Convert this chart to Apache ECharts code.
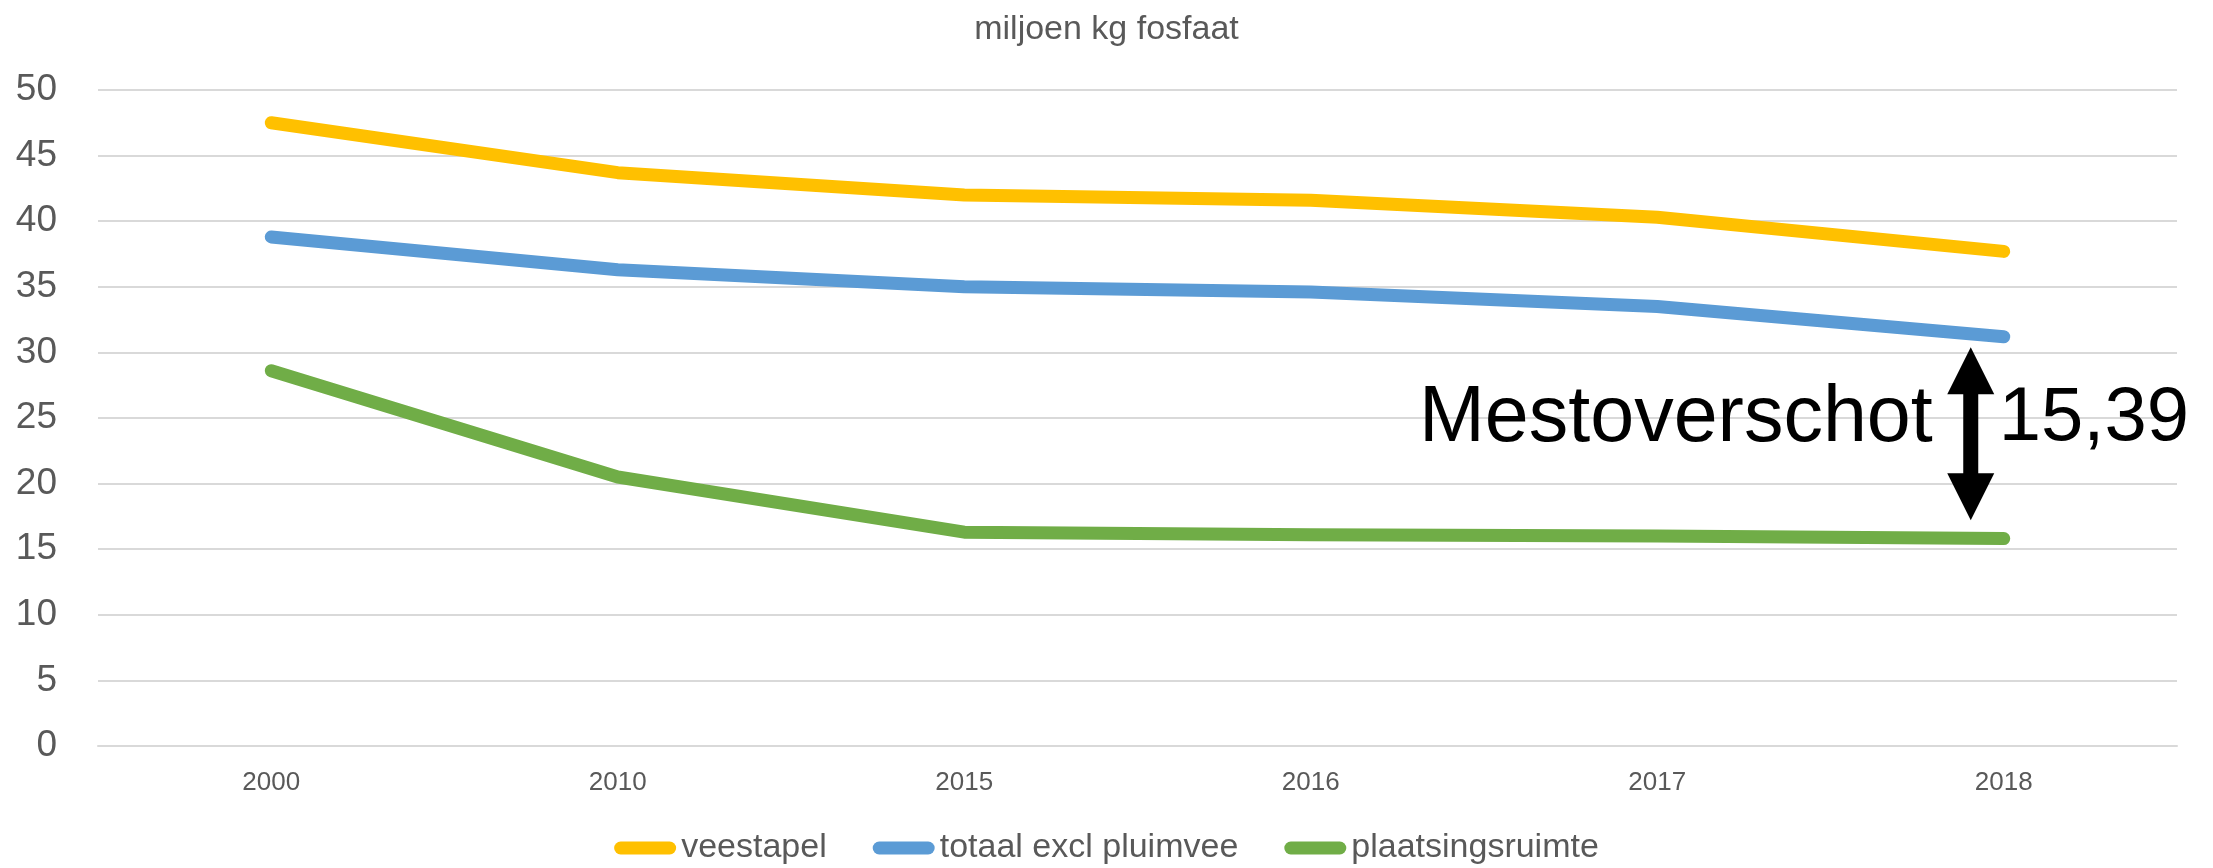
<html>
    <head>
        <meta charset="utf-8">
        <script src="https://cdn.jsdelivr.net/npm/echarts@6/dist/echarts.min.js"></script>
        <style>
            html, body { margin: 0; padding: 0; background: #fff; }
            #main { width: 2213px; height: 868px; }
        </style>
    </head>
    <body>
        <div id="main"></div>
        <script>
            var years = ['2000', '2010', '2015', '2016', '2017', '2018'];
            var veestapel = [47.5, 43.7, 42.0, 41.6, 40.3, 37.7];
            var totaalExclPluimvee = [38.8, 36.3, 35.0, 34.6, 33.5, 31.2];
            var plaatsingsruimte = [28.6, 20.5, 16.3, 16.1, 16.0, 15.81];

            // double arrow between the blue and green line at 2018
            var arrowTop = 30.4;
            var arrowBottom = 17.2;
            var labelLevel = 24.9;

            var font = 'Liberation Sans';
            var grey = '#595959';
            var pill = 'path://M6.5,0 L55.5,0 A6.5,6.5 0 0 1 55.5,13 L6.5,13 A6.5,6.5 0 0 1 6.5,0 Z';

            var chart = echarts.init(document.getElementById('main'));

            function line(name, data, color) {
                return {
                    name: name,
                    type: 'line',
                    data: data,
                    symbol: 'none',
                    color: color,
                    itemStyle: { color: color },
                    lineStyle: { width: 13, color: color, cap: 'round', join: 'round' }
                };
            }

            chart.setOption({
                animation: false,
                title: {
                    text: 'miljoen kg fosfaat',
                    left: 'center',
                    top: 8,
                    textStyle: { fontFamily: font, fontSize: 34, fontWeight: 'normal', color: grey }
                },
                legend: {
                    top: 826,
                    left: 'center',
                    icon: pill,
                    itemWidth: 62,
                    itemHeight: 13,
                    itemGap: 46,
                    textStyle: { fontFamily: font, fontSize: 34, color: grey },
                    data: ['veestapel', 'totaal excl pluimvee', 'plaatsingsruimte']
                },
                grid: { left: 98, right: 36, top: 90, bottom: 122 },
                xAxis: {
                    type: 'category',
                    data: years,
                    axisLine: { lineStyle: { color: '#D9D9D9', width: 2 } },
                    axisTick: { show: false },
                    axisLabel: { fontFamily: font, fontSize: 26, color: grey, margin: 24 }
                },
                yAxis: {
                    type: 'value',
                    min: 0,
                    max: 50,
                    interval: 5,
                    axisLine: { show: false },
                    axisTick: { show: false },
                    splitLine: { lineStyle: { color: '#D9D9D9', width: 2 } },
                    axisLabel: { fontFamily: font, fontSize: 37, color: grey, margin: 41 }
                },
                series: [
                    line('veestapel', veestapel, '#FFC000'),
                    line('totaal excl pluimvee', totaalExclPluimvee, '#5B9BD5'),
                    line('plaatsingsruimte', plaatsingsruimte, '#70AD47')
                ]
            });

            var lastIdx = years.length - 1;
            var pTop = chart.convertToPixel({ seriesIndex: 1 }, [lastIdx, arrowTop]);
            var pBottom = chart.convertToPixel({ seriesIndex: 1 }, [lastIdx, arrowBottom]);
            var pMid = chart.convertToPixel({ seriesIndex: 1 }, [lastIdx, labelLevel]);
            var ax = pTop[0] - 33, yt = pTop[1], yb = pBottom[1];
            var hw = 23.5, sw = 7.5, hh = 47;
            var gap = (totaalExclPluimvee[lastIdx] - plaatsingsruimte[lastIdx]).toFixed(2).replace('.', ',');

            chart.setOption({
                graphic: [
                    {
                        type: 'polygon',
                        shape: {
                            points: [
                                [ax, yt], [ax + hw, yt + hh], [ax + sw, yt + hh], [ax + sw, yb - hh],
                                [ax + hw, yb - hh], [ax, yb], [ax - hw, yb - hh], [ax - sw, yb - hh],
                                [ax - sw, yt + hh], [ax - hw, yt + hh]
                            ]
                        },
                        style: { fill: '#000' }
                    },
                    {
                        type: 'text',
                        x: ax - 38,
                        y: pMid[1],
                        style: {
                            text: 'Mestoverschot',
                            fontFamily: font,
                            fontSize: 79,
                            fill: '#000',
                            align: 'right',
                            verticalAlign: 'middle'
                        }
                    },
                    {
                        type: 'text',
                        x: ax + 28,
                        y: pMid[1],
                        style: {
                            text: gap,
                            fontFamily: font,
                            fontSize: 76,
                            fill: '#000',
                            align: 'left',
                            verticalAlign: 'middle'
                        }
                    }
                ]
            });
        </script>
    </body>
</html>
